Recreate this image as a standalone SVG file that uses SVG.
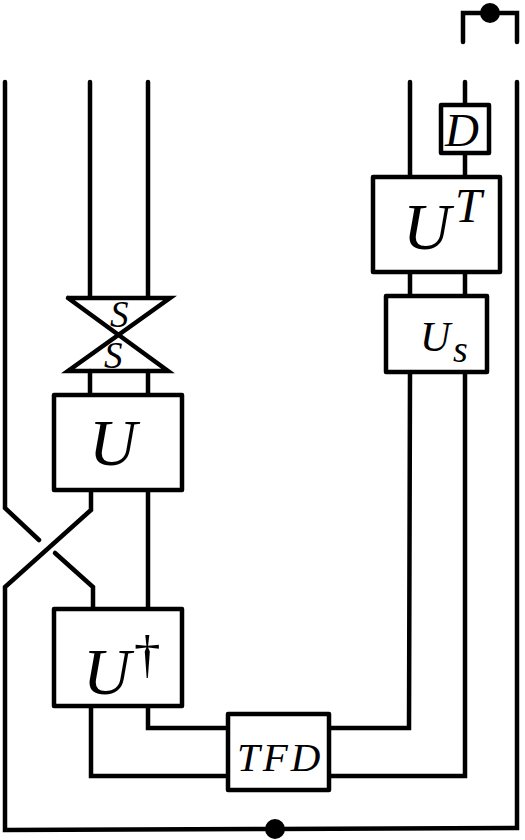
<svg xmlns="http://www.w3.org/2000/svg" width="525" height="840" viewBox="0 0 525 840">
<style>
.w{fill:none;stroke:#000;stroke-width:4.5;stroke-linejoin:miter;stroke-linecap:round}
.b{fill:#fff;stroke:#000;stroke-width:4.5;stroke-linejoin:round}
.d{fill:#000}
text{font-family:"Liberation Serif","Times New Roman",serif;font-style:italic;fill:#000}
</style>
<rect width="525" height="840" fill="#fff"/>
<g id="connectors">
<path class="w" d="M5 82V508L39 540"/>
<path class="w" d="M55 553L93 587V609"/>
<path class="w" d="M91 490V510L5 587V830L275 829L517 828V82"/>
<path class="w" d="M90 82V297M148 82V297M90 371V394M148 371V394"/>
<path class="w" d="M148 490V609"/>
<path class="w" d="M91 706V776H228M148 706V728H228"/>
<path class="w" d="M329 728H409L410 372M329 776H465V372"/>
<path class="w" d="M410 82V177M410 272V296M465 82V105M465 153V177M465 272V296"/>
<path class="w" d="M463 42V13H517V42"/>
</g>
<g id="cap-top"><circle class="d" cx="490" cy="13" r="10"/></g>
<g id="cap-bottom"><circle class="d" cx="275" cy="829" r="10"/></g>
<g id="swap-s"><path class="w" d="M68 298H170L68 371H168L68 298" stroke-linejoin="round"/>
<text x="110" y="327" font-size="37">S</text><text x="104" y="368" font-size="37">S</text></g>
<g id="u"><rect class="b" x="54" y="395" width="128" height="95"/><text x="89" y="465" font-size="66">U</text></g>
<g id="u-dagger"><rect class="b" x="54" y="609" width="128" height="97"/><text x="83" y="694" font-size="66">U</text><text x="134" y="672" font-size="53" style="font-style:normal">†</text></g>
<g id="tfd"><rect class="b" x="228" y="714" width="101" height="76"/><text x="237" y="771" font-size="41" letter-spacing="3">TFD</text></g>
<g id="us"><rect class="b" x="386" y="296" width="101" height="76"/><text x="420" y="351" font-size="42">U</text><text x="453" y="362" font-size="38">s</text></g>
<g id="u-t"><rect class="b" x="373" y="177" width="127" height="95"/><text x="403" y="249" font-size="66">U</text><text x="455" y="222" font-size="48">T</text></g>
<g id="d"><rect class="b" x="441" y="105" width="48" height="48"/><text x="445" y="146" font-size="47">D</text></g>
</svg>
